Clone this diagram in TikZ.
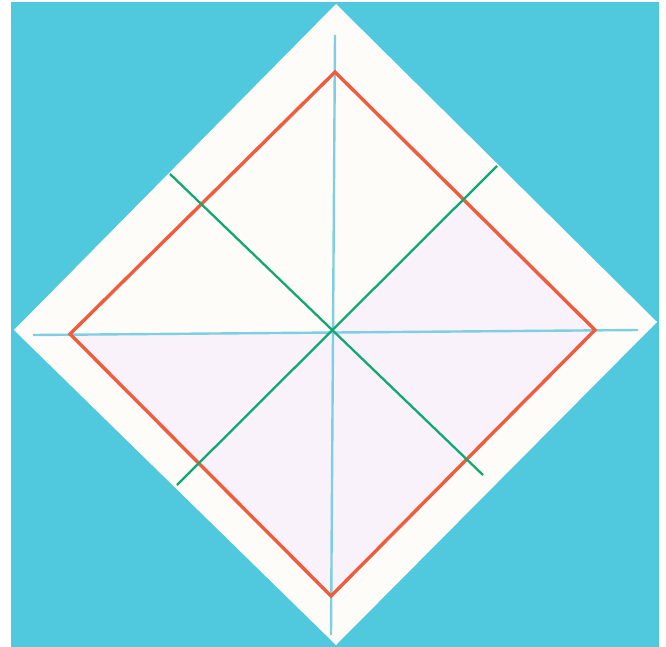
\documentclass[tikz,border=0pt]{standalone}
\definecolor{bgcyan}{HTML}{50C8DE}
\definecolor{paper}{HTML}{FEFCF8}
\definecolor{lav}{HTML}{F9F2FA}
\definecolor{redline}{HTML}{EE5E3E}
\definecolor{greenline}{HTML}{12A874}
\definecolor{blueline}{HTML}{7ECFE2}
\tikzset{
  redstyle/.style={draw=redline, line width=3.4pt, line join=miter},
  greenstyle/.style={draw=greenline, line width=2.3pt},
  bluestyle/.style={draw=blueline, line width=2.4pt}
}
\begin{document}
\begin{tikzpicture}[x=1pt,y=-1pt]
\useasboundingbox (0,0) rectangle (666,647);
\fill[white] (0,0) rectangle (666,647);
\fill[bgcyan] (11,2) rectangle (659,647);
% paper square
\coordinate (pT) at (336,4);
\coordinate (pR) at (657,322);
\coordinate (pB) at (336,645);
\coordinate (pL) at (14,330);
\fill[paper] (pT) -- (pR) -- (pB) -- (pL) -- cycle;
% red square corners
\coordinate (rT) at (335,72);
\coordinate (rR) at (595,330);
\coordinate (rB) at (331,596);
\coordinate (rL) at (70,334);
\coordinate (c) at (331,333);
\coordinate (gNE) at (463,197);
% lavender region
\fill[lav] (rL) -- (rB) -- (rR) -- (gNE) -- (c) -- cycle;
% blue creases
\coordinate (bT) at (335,35);
\coordinate (bB) at (331,635);
\coordinate (bL) at (33,335);
\coordinate (bR) at (638,330);
\draw[bluestyle] (bT) -- (bB);
\draw[bluestyle] (bL) -- (bR);
% red square
\draw[redstyle] (rT) -- (rR) -- (rB) -- (rL) -- cycle;
% green creases
\coordinate (g1a) at (170,174);
\coordinate (g1b) at (483,475);
\coordinate (g2a) at (177,485);
\coordinate (g2b) at (497,166);
\draw[greenstyle] (g1a) -- (g1b);
\draw[greenstyle] (g2a) -- (g2b);
\end{tikzpicture}
\end{document}
